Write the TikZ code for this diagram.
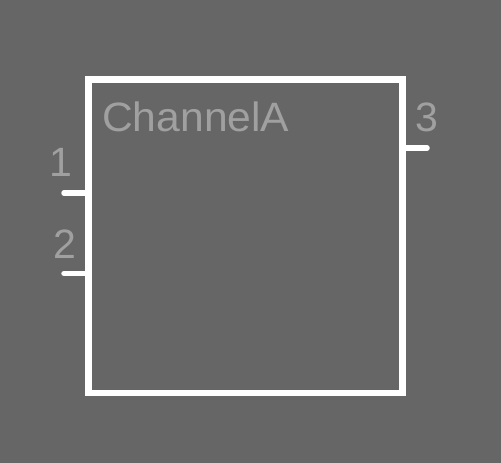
\documentclass[tikz,border=0pt]{standalone}
\usepackage{fontspec}
\setmainfont{Liberation Sans}
\usetikzlibrary{positioning,calc}
\definecolor{sheetbg}{HTML}{666666}
\definecolor{labelgrey}{HTML}{A0A0A0}
\tikzset{
    symbol box/.style={draw=white,line width=6.5pt,minimum width=314pt,minimum height=313.5pt,inner sep=0pt},
    pin line/.style={draw=white,line width=5.5pt,line cap=round},
    pin label/.style={text=labelgrey,anchor=base,inner sep=0pt,font=\fontsize{41}{41}\selectfont},
}

\begin{document}
\begin{tikzpicture}[x=1pt,y=-1pt]
        \fill[sheetbg] (0,0) rectangle (501,463);
        \useasboundingbox (0,0) rectangle (501,463);

        \node[symbol box] (box) at (245.5,236.25) {};
        \node[pin label,anchor=base west,xscale=1.04] (name) at (102,131.5) {ChannelA};

        \coordinate (p1) at (64,193);
        \coordinate (p2) at (64,273.5);
        \coordinate (p3) at (427,148);

        \node[pin label] (l1) at (61,176.5) {1};
        \node[pin label] (l2) at (64.5,258) {2};
        \node[pin label] (l3) at (427,131.5) {3};

        \path[pin line]
            (p1) edge (p1 -| box.west)
            (p2) edge (p2 -| box.west)
            (p3) edge (p3 -| box.east)
            ;
        \end{tikzpicture}
\end{document}
